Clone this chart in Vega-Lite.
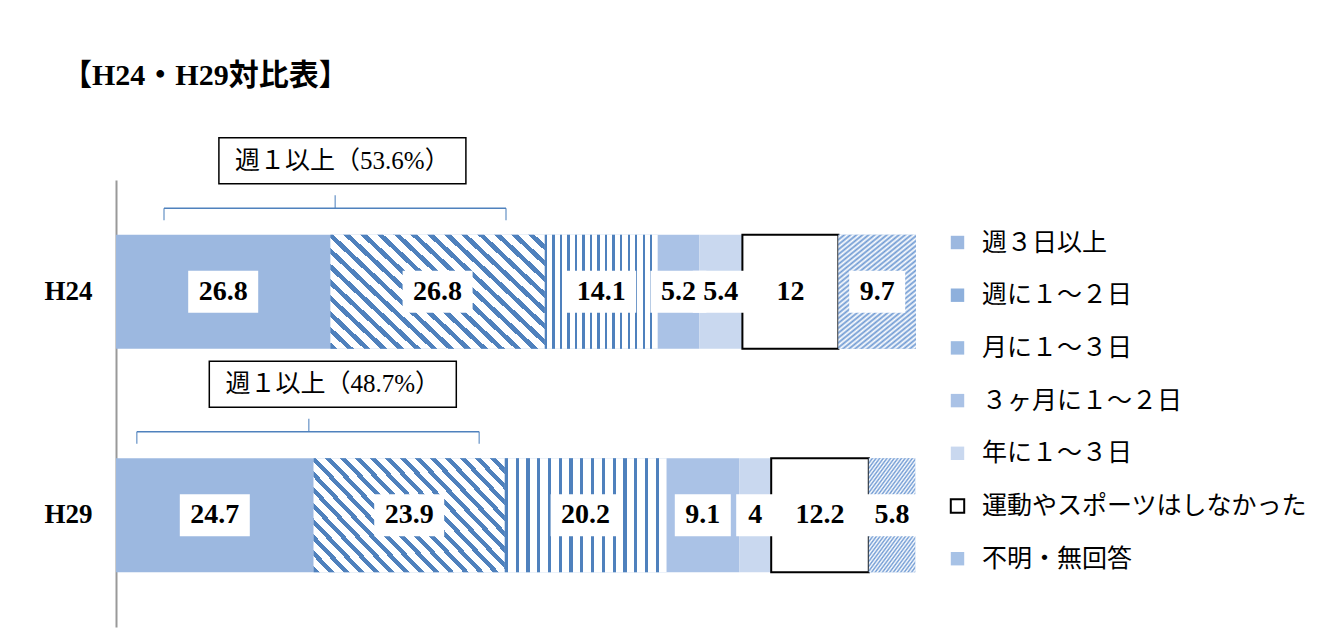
{
"$schema": "https://vega.github.io/schema/vega-lite/v6.json",
"width": 800, "height": 447,
"autosize": {"type": "none"},
"padding": {"left": 116, "top": 180, "right": 411, "bottom": 16},
"background": "white",
"title": {"text": "【H24・H29対比表】", "anchor": "start", "frame": "group", "offset": 20, "dx": -54, "baseline": "alphabetic", "fontSize": 30, "font": "Liberation Serif, Noto Sans CJK JP", "fontWeight": "bold", "color": "black"},
"datasets": {
"bars": [
{"year":"H24","cat":"週３日以上","ord":1,"value":26.8},
{"year":"H24","cat":"週に１～２日","ord":2,"value":26.8},
{"year":"H24","cat":"月に１～３日","ord":3,"value":14.1},
{"year":"H24","cat":"３ヶ月に１～２日","ord":4,"value":5.2},
{"year":"H24","cat":"年に１～３日","ord":5,"value":5.4},
{"year":"H24","cat":"運動やスポーツはしなかった","ord":6,"value":12},
{"year":"H24","cat":"不明・無回答","ord":7,"value":9.7},
{"year":"H29","cat":"週３日以上","ord":1,"value":24.7},
{"year":"H29","cat":"週に１～２日","ord":2,"value":23.9},
{"year":"H29","cat":"月に１～３日","ord":3,"value":20.2},
{"year":"H29","cat":"３ヶ月に１～２日","ord":4,"value":9.1},
{"year":"H29","cat":"年に１～３日","ord":5,"value":4},
{"year":"H29","cat":"運動やスポーツはしなかった","ord":6,"value":12.2},
{"year":"H29","cat":"不明・無回答","ord":7,"value":5.8}
],
"notes": [
{"year":"H24","lo":6.0,"hi":48.75,"mid":27.4,"boxCenter":28.3,"text":"週１以上（53.6%）"},
{"year":"H29","lo":2.6,"hi":45.4,"mid":24.1,"boxCenter":27.1,"text":"週１以上（48.7%）"}
]
},
"layer": [
{
"data": {"name": "bars"},
"transform": [{"stack": "value", "groupby": ["year"], "sort": [{"field": "ord", "order": "ascending"}], "as": ["x0", "x1"]}],
"mark": {"type": "bar", "strokeWidth": 2},
"encoding": {
"y": {"field": "year", "type": "nominal", "scale": {"domain": ["H24","H29"], "paddingInner": 0.49, "paddingOuter": 0.245},
 "axis": {"title": null, "domainColor": "#999999", "domainWidth": 2, "ticks": false, "grid": false, "labelFont": "Liberation Serif", "labelFontWeight": "bold", "labelFontSize": 27, "labelColor": "black", "labelPadding": 24}},
"x": {"field": "x0", "type": "quantitative", "scale": {"domain": [0, 100], "nice": false}, "axis": null},
"x2": {"field": "x1"},
"fill": {"field": "cat", "type": "nominal",
 "scale": {"domain": ["週３日以上","週に１～２日","月に１～３日","３ヶ月に１～２日","年に１～３日","運動やスポーツはしなかった","不明・無回答"],
  "range": ["#9cb8e0","#8eb0dc","#9dbbe2","#aac2e6","#c9d8ef","#ffffff","#a7c2e6"]},
 "legend": {"title": null}},
"stroke": {"field": "cat", "type": "nominal",
 "scale": {"domain": ["週３日以上","週に１～２日","月に１～３日","３ヶ月に１～２日","年に１～３日","運動やスポーツはしなかった","不明・無回答"],
  "range": ["transparent","transparent","transparent","transparent","transparent","#000000","transparent"]},
 "legend": {"title": null}}
}
},
{
"data": {"name": "bars"},
"transform": [
 {"stack": "value", "groupby": ["year"], "sort": [{"field": "ord", "order": "ascending"}], "as": ["x0", "x1"]},
 {"filter": {"field": "cat", "oneOf": ["週に１～２日","月に１～３日","不明・無回答"]}}
],
"mark": {"type": "bar"},
"encoding": {
"y": {"field": "year", "type": "nominal"},
"x": {"field": "x0", "type": "quantitative"},
"x2": {"field": "x1"},
"fill": {
 "condition": [
  {"test": "datum.cat === '週に１～２日'", "value": {"gradient": "linear", "x1": 0, "y1": 1, "x2": 1.186, "y2": 0.33, "stops": [
{"offset":0,"color":"#4f81bd"},{"offset":0.02,"color":"#4f81bd"},{"offset":0.02,"color":"#ffffff"},{"offset":0.05,"color":"#ffffff"},
{"offset":0.05,"color":"#4f81bd"},{"offset":0.07,"color":"#4f81bd"},{"offset":0.07,"color":"#ffffff"},{"offset":0.1,"color":"#ffffff"},
{"offset":0.1,"color":"#4f81bd"},{"offset":0.12,"color":"#4f81bd"},{"offset":0.12,"color":"#ffffff"},{"offset":0.15,"color":"#ffffff"},
{"offset":0.15,"color":"#4f81bd"},{"offset":0.17,"color":"#4f81bd"},{"offset":0.17,"color":"#ffffff"},{"offset":0.2,"color":"#ffffff"},
{"offset":0.2,"color":"#4f81bd"},{"offset":0.22,"color":"#4f81bd"},{"offset":0.22,"color":"#ffffff"},{"offset":0.25,"color":"#ffffff"},
{"offset":0.25,"color":"#4f81bd"},{"offset":0.27,"color":"#4f81bd"},{"offset":0.27,"color":"#ffffff"},{"offset":0.3,"color":"#ffffff"},
{"offset":0.3,"color":"#4f81bd"},{"offset":0.32,"color":"#4f81bd"},{"offset":0.32,"color":"#ffffff"},{"offset":0.35,"color":"#ffffff"},
{"offset":0.35,"color":"#4f81bd"},{"offset":0.37,"color":"#4f81bd"},{"offset":0.37,"color":"#ffffff"},{"offset":0.4,"color":"#ffffff"},
{"offset":0.4,"color":"#4f81bd"},{"offset":0.42,"color":"#4f81bd"},{"offset":0.42,"color":"#ffffff"},{"offset":0.45,"color":"#ffffff"},
{"offset":0.45,"color":"#4f81bd"},{"offset":0.47,"color":"#4f81bd"},{"offset":0.47,"color":"#ffffff"},{"offset":0.5,"color":"#ffffff"},
{"offset":0.5,"color":"#4f81bd"},{"offset":0.52,"color":"#4f81bd"},{"offset":0.52,"color":"#ffffff"},{"offset":0.55,"color":"#ffffff"},
{"offset":0.55,"color":"#4f81bd"},{"offset":0.57,"color":"#4f81bd"},{"offset":0.57,"color":"#ffffff"},{"offset":0.6,"color":"#ffffff"},
{"offset":0.6,"color":"#4f81bd"},{"offset":0.62,"color":"#4f81bd"},{"offset":0.62,"color":"#ffffff"},{"offset":0.65,"color":"#ffffff"},
{"offset":0.65,"color":"#4f81bd"},{"offset":0.67,"color":"#4f81bd"},{"offset":0.67,"color":"#ffffff"},{"offset":0.7,"color":"#ffffff"},
{"offset":0.7,"color":"#4f81bd"},{"offset":0.72,"color":"#4f81bd"},{"offset":0.72,"color":"#ffffff"},{"offset":0.75,"color":"#ffffff"},
{"offset":0.75,"color":"#4f81bd"},{"offset":0.77,"color":"#4f81bd"},{"offset":0.77,"color":"#ffffff"},{"offset":0.8,"color":"#ffffff"},
{"offset":0.8,"color":"#4f81bd"},{"offset":0.82,"color":"#4f81bd"},{"offset":0.82,"color":"#ffffff"},{"offset":0.85,"color":"#ffffff"},
{"offset":0.85,"color":"#4f81bd"},{"offset":0.87,"color":"#4f81bd"},{"offset":0.87,"color":"#ffffff"},{"offset":0.9,"color":"#ffffff"},
{"offset":0.9,"color":"#4f81bd"},{"offset":0.92,"color":"#4f81bd"},{"offset":0.92,"color":"#ffffff"},{"offset":0.95,"color":"#ffffff"},
{"offset":0.95,"color":"#4f81bd"},{"offset":0.97,"color":"#4f81bd"},{"offset":0.97,"color":"#ffffff"},{"offset":1,"color":"#ffffff"}
  ]}},
  {"test": "datum.cat === '月に１～３日'", "value": {"gradient": "linear", "x1": 0, "y1": 0, "x2": 1, "y2": 0, "stops": [
{"offset":0,"color":"#4f81bd"},{"offset":0.02,"color":"#4f81bd"},{"offset":0.02,"color":"#ffffff"},{"offset":0.0667,"color":"#ffffff"},
{"offset":0.0667,"color":"#4f81bd"},{"offset":0.0867,"color":"#4f81bd"},{"offset":0.0867,"color":"#ffffff"},{"offset":0.1333,"color":"#ffffff"},
{"offset":0.1333,"color":"#4f81bd"},{"offset":0.1533,"color":"#4f81bd"},{"offset":0.1533,"color":"#ffffff"},{"offset":0.2,"color":"#ffffff"},
{"offset":0.2,"color":"#4f81bd"},{"offset":0.22,"color":"#4f81bd"},{"offset":0.22,"color":"#ffffff"},{"offset":0.2667,"color":"#ffffff"},
{"offset":0.2667,"color":"#4f81bd"},{"offset":0.2867,"color":"#4f81bd"},{"offset":0.2867,"color":"#ffffff"},{"offset":0.3333,"color":"#ffffff"},
{"offset":0.3333,"color":"#4f81bd"},{"offset":0.3533,"color":"#4f81bd"},{"offset":0.3533,"color":"#ffffff"},{"offset":0.4,"color":"#ffffff"},
{"offset":0.4,"color":"#4f81bd"},{"offset":0.42,"color":"#4f81bd"},{"offset":0.42,"color":"#ffffff"},{"offset":0.4667,"color":"#ffffff"},
{"offset":0.4667,"color":"#4f81bd"},{"offset":0.4867,"color":"#4f81bd"},{"offset":0.4867,"color":"#ffffff"},{"offset":0.5333,"color":"#ffffff"},
{"offset":0.5333,"color":"#4f81bd"},{"offset":0.5533,"color":"#4f81bd"},{"offset":0.5533,"color":"#ffffff"},{"offset":0.6,"color":"#ffffff"},
{"offset":0.6,"color":"#4f81bd"},{"offset":0.62,"color":"#4f81bd"},{"offset":0.62,"color":"#ffffff"},{"offset":0.6667,"color":"#ffffff"},
{"offset":0.6667,"color":"#4f81bd"},{"offset":0.6867,"color":"#4f81bd"},{"offset":0.6867,"color":"#ffffff"},{"offset":0.7333,"color":"#ffffff"},
{"offset":0.7333,"color":"#4f81bd"},{"offset":0.7533,"color":"#4f81bd"},{"offset":0.7533,"color":"#ffffff"},{"offset":0.8,"color":"#ffffff"},
{"offset":0.8,"color":"#4f81bd"},{"offset":0.82,"color":"#4f81bd"},{"offset":0.82,"color":"#ffffff"},{"offset":0.8667,"color":"#ffffff"},
{"offset":0.8667,"color":"#4f81bd"},{"offset":0.8867,"color":"#4f81bd"},{"offset":0.8867,"color":"#ffffff"},{"offset":0.9333,"color":"#ffffff"},
{"offset":0.9333,"color":"#4f81bd"},{"offset":0.9533,"color":"#4f81bd"},{"offset":0.9533,"color":"#ffffff"},{"offset":1,"color":"#ffffff"}
  ]}}
 ],
 "value": {"gradient": "linear", "x1": 0, "y1": 0, "x2": 0.654, "y2": 1.19, "stops": [
{"offset":0,"color":"#6f9ad3"},{"offset":0.0139,"color":"#ffffff"},{"offset":0.0278,"color":"#6f9ad3"},{"offset":0.0417,"color":"#ffffff"},
{"offset":0.0556,"color":"#6f9ad3"},{"offset":0.0694,"color":"#ffffff"},{"offset":0.0833,"color":"#6f9ad3"},{"offset":0.0972,"color":"#ffffff"},
{"offset":0.1111,"color":"#6f9ad3"},{"offset":0.125,"color":"#ffffff"},{"offset":0.1389,"color":"#6f9ad3"},{"offset":0.1528,"color":"#ffffff"},
{"offset":0.1667,"color":"#6f9ad3"},{"offset":0.1806,"color":"#ffffff"},{"offset":0.1944,"color":"#6f9ad3"},{"offset":0.2083,"color":"#ffffff"},
{"offset":0.2222,"color":"#6f9ad3"},{"offset":0.2361,"color":"#ffffff"},{"offset":0.25,"color":"#6f9ad3"},{"offset":0.2639,"color":"#ffffff"},
{"offset":0.2778,"color":"#6f9ad3"},{"offset":0.2917,"color":"#ffffff"},{"offset":0.3056,"color":"#6f9ad3"},{"offset":0.3194,"color":"#ffffff"},
{"offset":0.3333,"color":"#6f9ad3"},{"offset":0.3472,"color":"#ffffff"},{"offset":0.3611,"color":"#6f9ad3"},{"offset":0.375,"color":"#ffffff"},
{"offset":0.3889,"color":"#6f9ad3"},{"offset":0.4028,"color":"#ffffff"},{"offset":0.4167,"color":"#6f9ad3"},{"offset":0.4306,"color":"#ffffff"},
{"offset":0.4444,"color":"#6f9ad3"},{"offset":0.4583,"color":"#ffffff"},{"offset":0.4722,"color":"#6f9ad3"},{"offset":0.4861,"color":"#ffffff"},
{"offset":0.5,"color":"#6f9ad3"},{"offset":0.5139,"color":"#ffffff"},{"offset":0.5278,"color":"#6f9ad3"},{"offset":0.5417,"color":"#ffffff"},
{"offset":0.5556,"color":"#6f9ad3"},{"offset":0.5694,"color":"#ffffff"},{"offset":0.5833,"color":"#6f9ad3"},{"offset":0.5972,"color":"#ffffff"},
{"offset":0.6111,"color":"#6f9ad3"},{"offset":0.625,"color":"#ffffff"},{"offset":0.6389,"color":"#6f9ad3"},{"offset":0.6528,"color":"#ffffff"},
{"offset":0.6667,"color":"#6f9ad3"},{"offset":0.6806,"color":"#ffffff"},{"offset":0.6944,"color":"#6f9ad3"},{"offset":0.7083,"color":"#ffffff"},
{"offset":0.7222,"color":"#6f9ad3"},{"offset":0.7361,"color":"#ffffff"},{"offset":0.75,"color":"#6f9ad3"},{"offset":0.7639,"color":"#ffffff"},
{"offset":0.7778,"color":"#6f9ad3"},{"offset":0.7917,"color":"#ffffff"},{"offset":0.8056,"color":"#6f9ad3"},{"offset":0.8194,"color":"#ffffff"},
{"offset":0.8333,"color":"#6f9ad3"},{"offset":0.8472,"color":"#ffffff"},{"offset":0.8611,"color":"#6f9ad3"},{"offset":0.875,"color":"#ffffff"},
{"offset":0.8889,"color":"#6f9ad3"},{"offset":0.9028,"color":"#ffffff"},{"offset":0.9167,"color":"#6f9ad3"},{"offset":0.9306,"color":"#ffffff"},
{"offset":0.9444,"color":"#6f9ad3"},{"offset":0.9583,"color":"#ffffff"},{"offset":0.9722,"color":"#6f9ad3"},{"offset":0.9861,"color":"#ffffff"},
{"offset":1,"color":"#6f9ad3"}
 ]}
}
}
},
{
"data": {"name": "bars"},
"transform": [
 {"stack": "value", "groupby": ["year"], "sort": [{"field": "ord", "order": "ascending"}], "as": ["x0", "x1"]},
 {"calculate": "(datum.x0 + datum.x1) / 2", "as": "center"}
],
"mark": {"type": "point", "filled": true, "fill": "#ffffff", "opacity": 1, "strokeWidth": 0},
"encoding": {
"y": {"field": "year", "type": "nominal"},
"x": {"field": "center", "type": "quantitative"},
"shape": {"condition": [
 {"test": "length(toString(datum.value)) == 1", "value": "M-1,-1.1053H1V1.1053H-1Z"},
 {"test": "length(toString(datum.value)) == 2", "value": "M-1,-0.875H1V0.875H-1Z"},
 {"test": "length(toString(datum.value)) == 3", "value": "M-1,-0.75H1V0.75H-1Z"}
 ], "value": "M-1,-0.6H1V0.6H-1Z"},
"size": {"condition": [
 {"test": "length(toString(datum.value)) == 1", "value": 1444},
 {"test": "length(toString(datum.value)) == 2", "value": 2304},
 {"test": "length(toString(datum.value)) == 3", "value": 3136}
 ], "value": 4900}
}
},
{
"data": {"name": "bars"},
"transform": [
 {"stack": "value", "groupby": ["year"], "sort": [{"field": "ord", "order": "ascending"}], "as": ["x0", "x1"]},
 {"calculate": "(datum.x0 + datum.x1) / 2", "as": "center"}
],
"mark": {"type": "text", "font": "Liberation Serif", "fontWeight": "bold", "fontSize": 28, "color": "#000000", "baseline": "middle", "align": "center"},
"encoding": {
"y": {"field": "year", "type": "nominal"},
"x": {"field": "center", "type": "quantitative"},
"text": {"field": "value", "type": "nominal"}
}
},
{
"data": {"name": "notes"},
"mark": {"type": "rule", "color": "#4f81bd", "strokeWidth": 1.5, "yOffset": -83.5},
"encoding": {
"y": {"field": "year", "type": "nominal"},
"x": {"field": "lo", "type": "quantitative"},
"x2": {"field": "hi"}
}
},
{
"data": {"name": "notes"},
"mark": {"type": "tick", "color": "#4f81bd", "thickness": 1.5, "size": 12, "yOffset": -77.5},
"encoding": {
"y": {"field": "year", "type": "nominal"},
"x": {"field": "lo", "type": "quantitative"}
}
},
{
"data": {"name": "notes"},
"mark": {"type": "tick", "color": "#4f81bd", "thickness": 1.5, "size": 12, "yOffset": -77.5},
"encoding": {
"y": {"field": "year", "type": "nominal"},
"x": {"field": "hi", "type": "quantitative"}
}
},
{
"data": {"name": "notes"},
"mark": {"type": "tick", "color": "#4f81bd", "thickness": 1.5, "size": 13, "yOffset": -90},
"encoding": {
"y": {"field": "year", "type": "nominal"},
"x": {"field": "mid", "type": "quantitative"}
}
},
{
"data": {"name": "notes"},
"mark": {"type": "point", "shape": "M-1,-0.186H1V0.186H-1Z", "size": 61009, "filled": true, "fill": "#ffffff", "stroke": "#000000", "strokeWidth": 1.5, "opacity": 1, "yOffset": -131},
"encoding": {
"y": {"field": "year", "type": "nominal"},
"x": {"field": "boxCenter", "type": "quantitative"}
}
},
{
"data": {"name": "notes"},
"mark": {"type": "text", "font": "Liberation Serif, Noto Sans CJK JP", "fontSize": 25, "color": "#000000", "baseline": "middle", "align": "center", "yOffset": -131},
"encoding": {
"y": {"field": "year", "type": "nominal"},
"x": {"field": "boxCenter", "type": "quantitative"},
"text": {"field": "text", "type": "nominal"}
}
}
],
"config": {
"view": {"stroke": null},
"legend": {"orient": "none", "legendX": 829, "legendY": 50, "symbolType": "square", "symbolSize": 180, "symbolStrokeWidth": 2, "labelFontSize": 25, "labelFont": "Liberation Serif, Noto Sans CJK JP", "labelColor": "#000000", "rowPadding": 26.7, "labelOffset": 12, "padding": 0, "labelLimit": 500}
}
}
